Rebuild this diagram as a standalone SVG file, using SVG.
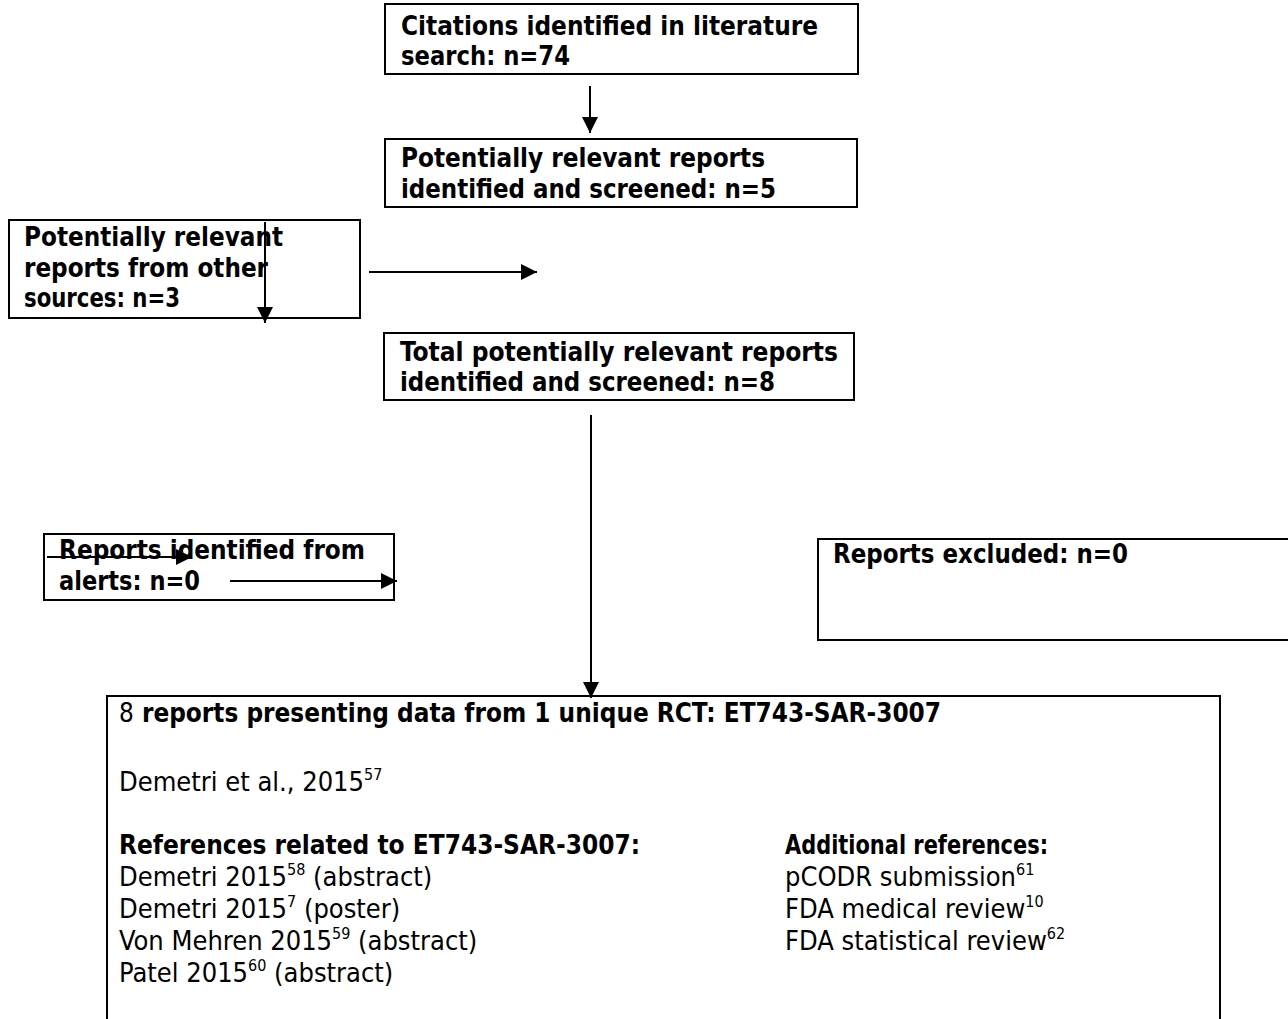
<svg xmlns="http://www.w3.org/2000/svg" width="1288" height="1019" viewBox="0 0 1288 1019">
<style>
.box{fill:#fff;stroke:#000;stroke-width:2}
.t{font-family:"DejaVu Sans Condensed","DejaVu Sans",sans-serif;font-size:27px;fill:#000}
.b{font-weight:bold}
.s{font-size:16px}
.ln{stroke:#000;stroke-width:2;fill:none}
</style>
<defs>
<marker id="ah" viewBox="0 0 10 10" refX="10" refY="5" markerWidth="16" markerHeight="16" markerUnits="userSpaceOnUse" orient="auto">
<path d="M0,0 L10,5 L0,10 Z" fill="#000"/>
</marker>
</defs>
<g id="n1">
<rect class="box" x="385" y="4" width="473" height="70"/>
<text class="t b" x="401" y="35" textLength="417" lengthAdjust="spacingAndGlyphs">Citations identified in literature</text>
<text class="t b" x="401" y="65" textLength="169" lengthAdjust="spacingAndGlyphs">search: n=74</text>
</g>
<g id="n2">
<rect class="box" x="385" y="139" width="472" height="68"/>
<text class="t b" x="401" y="167" textLength="364" lengthAdjust="spacingAndGlyphs">Potentially relevant reports</text>
<text class="t b" x="401" y="198" textLength="375" lengthAdjust="spacingAndGlyphs">identified and screened: n=5</text>
</g>
<g id="n3">
<rect class="box" x="9" y="220" width="351" height="98"/>
<text class="t b" x="24" y="246" textLength="259" lengthAdjust="spacingAndGlyphs">Potentially relevant</text>
<text class="t b" x="24" y="277" textLength="244" lengthAdjust="spacingAndGlyphs">reports from other</text>
<text class="t b" x="24" y="307" textLength="156" lengthAdjust="spacingAndGlyphs">sources: n=3</text>
</g>
<g id="n4">
<rect class="box" x="384" y="333" width="470" height="67"/>
<text class="t b" x="400" y="361" textLength="438" lengthAdjust="spacingAndGlyphs">Total potentially relevant reports</text>
<text class="t b" x="400" y="391" textLength="375" lengthAdjust="spacingAndGlyphs">identified and screened: n=8</text>
</g>
<g id="n5">
<rect class="box" x="44" y="534" width="350" height="66"/>
<text class="t b" x="59" y="559" textLength="306" lengthAdjust="spacingAndGlyphs">Reports identified from</text>
<text class="t b" x="59" y="590" textLength="141" lengthAdjust="spacingAndGlyphs">alerts: n=0</text>
</g>
<g id="n6">
<rect class="box" x="818" y="539" width="475" height="101"/>
<text class="t b" x="833" y="563" textLength="295" lengthAdjust="spacingAndGlyphs">Reports excluded: n=0</text>
</g>
<g id="n7">
<rect class="box" x="107" y="696" width="1113" height="330"/>
<text class="t" x="119" y="722" textLength="822" lengthAdjust="spacingAndGlyphs"><tspan>8</tspan><tspan class="b"> reports presenting data from 1 unique RCT: ET743-SAR-3007</tspan></text>
<text class="t" x="119" y="791">Demetri et al., 2015<tspan class="s" dy="-11">57</tspan></text>
<text class="t b" x="119" y="854" textLength="521" lengthAdjust="spacingAndGlyphs">References related to ET743-SAR-3007:</text>
<text class="t b" x="785" y="854" textLength="263" lengthAdjust="spacingAndGlyphs">Additional references:</text>
<text class="t" x="119" y="886">Demetri 2015<tspan class="s" dy="-11">58</tspan><tspan dy="11"> (abstract)</tspan></text>
<text class="t" x="119" y="918">Demetri 2015<tspan class="s" dy="-11">7</tspan><tspan dy="11"> (poster)</tspan></text>
<text class="t" x="119" y="950">Von Mehren 2015<tspan class="s" dy="-11">59</tspan><tspan dy="11"> (abstract)</tspan></text>
<text class="t" x="119" y="982">Patel 2015<tspan class="s" dy="-11">60</tspan><tspan dy="11"> (abstract)</tspan></text>
<text class="t" x="785" y="886">pCODR submission<tspan class="s" dy="-11">61</tspan></text>
<text class="t" x="785" y="918">FDA medical review<tspan class="s" dy="-11">10</tspan></text>
<text class="t" x="785" y="950">FDA statistical review<tspan class="s" dy="-11">62</tspan></text>
</g>
<g id="connectors">
<line class="ln" x1="590" y1="86" x2="590" y2="133" marker-end="url(#ah)"/>
<line class="ln" x1="265" y1="222" x2="265" y2="323" marker-end="url(#ah)"/>
<line class="ln" x1="369" y1="272" x2="537" y2="272" marker-end="url(#ah)"/>
<line class="ln" x1="591" y1="415" x2="591" y2="698" marker-end="url(#ah)"/>
<line class="ln" x1="47" y1="557" x2="192" y2="557" marker-end="url(#ah)"/>
<line class="ln" x1="230" y1="581" x2="397" y2="581" marker-end="url(#ah)"/>
</g>
</svg>
